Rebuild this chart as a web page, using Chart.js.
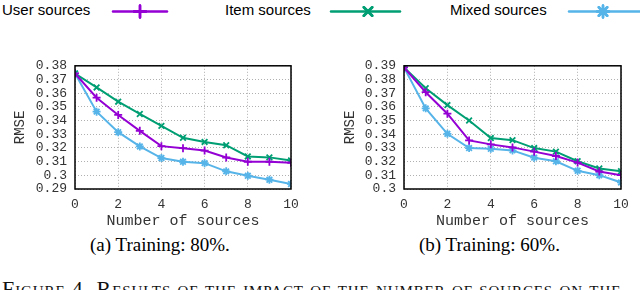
<!DOCTYPE html>
<html>
<head>
<meta charset="utf-8">
<script src="https://cdn.jsdelivr.net/npm/chart.js@4"></script>
<style>
  body { margin: 0; background: #fff; width: 640px; height: 290px; overflow: hidden; position: relative; }
  .lg { position: absolute; top: 2px; font: 15px "Liberation Sans", Arial, sans-serif; line-height: 15px; color: #000; white-space: nowrap; }
  .cap { position: absolute; top: 235px; font: 19px "Liberation Serif", "Times New Roman", serif; line-height: 19px; color: #000; white-space: nowrap; }
  #fig { position: absolute; left: 2px; top: 278px; font: 22px "Liberation Serif", "Times New Roman", serif; line-height: 22px; font-variant: small-caps; letter-spacing: 0.9px; color: #111; white-space: nowrap; }
  .box { position: absolute; top: 50px; width: 320px; height: 182px; }
</style>
</head>
<body>
<span class="lg" style="left:2px">User sources</span>
<span class="lg" style="left:225px">Item sources</span>
<span class="lg" style="left:450px">Mixed sources</span>
<canvas id="legendCanvas" width="640" height="25" style="position:absolute;left:0;top:0"></canvas>

<div class="box" style="left:0"><canvas id="chartA" width="320" height="182"></canvas></div>
<div class="box" style="left:320px"><canvas id="chartB" width="320" height="182"></canvas></div>

<span class="cap" style="left:90px">(a) Training: 80%.</span>
<span class="cap" style="left:419px">(b) Training: 60%.</span>
<div id="fig">Figure 4. Results of the impact of the number of sources on the</div>

<script>
  // === Data ===
  const sources = [0,1,2,3,4,5,6,7,8,9,10];
  const seriesNames = ['User sources', 'Item sources', 'Mixed sources'];

  // (a) Training 80%
  const user80  = [0.3744,0.3567,0.3441,0.3325,0.3213,0.3198,0.3181,0.3130,0.3099,0.3099,0.3092];
  const item80  = [0.3744,0.3642,0.3538,0.3448,0.3361,0.3274,0.3244,0.3220,0.3138,0.3131,0.3109];
  const mixed80 = [0.3744,0.3465,0.3315,0.3211,0.3126,0.3099,0.3089,0.3029,0.2997,0.2968,0.2937];

  // (b) Training 60%
  const user60  = [0.3888,0.3707,0.3550,0.3355,0.3326,0.3304,0.3273,0.3241,0.3193,0.3128,0.3101];
  const item60  = [0.3888,0.3736,0.3613,0.3500,0.3372,0.3357,0.3299,0.3273,0.3203,0.3150,0.3130];
  const mixed60 = [0.3888,0.3589,0.3403,0.3299,0.3294,0.3282,0.3229,0.3203,0.3133,0.3101,0.3048];

  const xTicks = [0,2,4,6,8,10];
  const yTicksA = [0.29,0.30,0.31,0.32,0.33,0.34,0.35,0.36,0.37,0.38];
  const yTicksB = [0.30,0.31,0.32,0.33,0.34,0.35,0.36,0.37,0.38,0.39];

  const colors = ['#9400d3', '#009e73', '#56b4e9'];
  const markers = ['cross', 'crossRot', 'star'];
  const mono = '"Liberation Mono", "DejaVu Sans Mono", monospace';

  // black frame around the plot area (gnuplot style)
  const frame = {
    id: 'frame',
    afterDraw(chart) {
      const a = chart.chartArea, c = chart.ctx;
      c.save();
      c.strokeStyle = '#000';
      c.lineWidth = 1.5;
      c.strokeRect(a.left, a.top, a.right - a.left, a.bottom - a.top);
      c.restore();
    }
  };

  function makeChart(id, series, yTicks, axisWidth, rightPad, titlePad) {
    const datasets = series.map((vals, i) => ({
      label: seriesNames[i],
      data: sources.map((x, j) => ({ x: x, y: vals[j] })),
      borderColor: colors[i],
      backgroundColor: colors[i],
      borderWidth: 2,
      pointStyle: markers[i],
      pointRadius: 4,
      pointBorderWidth: 1.8,
      tension: 0
    }));
    return new Chart(document.getElementById(id), {
      type: 'line',
      data: { datasets },
      plugins: [frame],
      options: {
        responsive: false,
        animation: false,
        layout: { padding: { left: 0, right: rightPad, top: 15, bottom: 0 } },
        plugins: { legend: { display: false }, tooltip: { enabled: false } },
        scales: {
          x: {
            type: 'linear', min: 0, max: 10,
            afterBuildTicks: s => { s.ticks = xTicks.map(v => ({ value: v })); },
            afterFit: s => { s.height = 43; },
            grid: { color: '#b0b0b0', drawTicks: false },
            border: { display: false, dash: [1, 2] },
            ticks: { color: '#333', padding: 8, autoSkip: false, maxRotation: 0,
                     font: { family: mono, size: 13 } },
            title: { display: true, text: 'Number of sources', color: '#333',
                     padding: { top: 0, bottom: 2 }, font: { family: mono, size: 15 } }
          },
          y: {
            min: yTicks[0], max: yTicks[yTicks.length - 1],
            afterBuildTicks: s => { s.ticks = yTicks.map(v => ({ value: v })); },
            afterFit: s => { s.width = axisWidth; },
            grid: { color: '#b0b0b0', drawTicks: false },
            border: { display: false, dash: [1, 2] },
            ticks: { color: '#333', padding: 8, autoSkip: false, font: { family: mono, size: 13 },
                     callback: v => String(parseFloat(v.toFixed(2))) },
            title: { display: true, text: 'RMSE', color: '#333',
                     padding: { top: titlePad, bottom: 0 }, font: { family: mono, size: 14 } }
          }
        }
      }
    });
  }

  makeChart('chartA', [user80, item80, mixed80], yTicksA, 75, 29, 12);
  makeChart('chartB', [user60, item60, mixed60], yTicksB, 84, 19, 22);

  // === Legend samples ===
  const lctx = document.getElementById('legendCanvas').getContext('2d');
  const legendLines = [[113, 167, 140], [331, 400, 368], [569, 640, 603]];
  legendLines.forEach(([x0, x1, mx], i) => {
    const y = 11.5;
    lctx.strokeStyle = colors[i];
    lctx.lineWidth = 2.5;
    lctx.lineCap = 'round';
    lctx.beginPath(); lctx.moveTo(x0, y); lctx.lineTo(x1, y); lctx.stroke();
    Chart.helpers.drawPoint(lctx, { pointStyle: markers[i], radius: 6, borderWidth: 3 }, mx, y);
    lctx.stroke();
  });
</script>
</body>
</html>
